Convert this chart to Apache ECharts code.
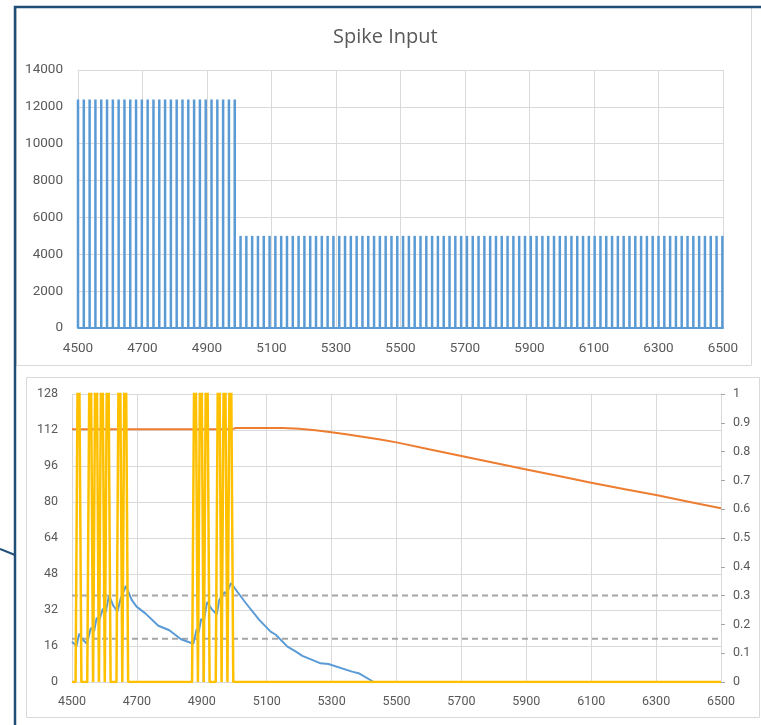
<!DOCTYPE html>
<html>
<head>
<meta charset="utf-8">
<script src="https://cdn.jsdelivr.net/npm/echarts@6/dist/echarts.min.js"></script>
<style>html,body{margin:0;padding:0;background:#fff}#c{width:761px;height:725px}</style>
</head>
<body>
<div id="c"></div>
<script>
// ---------- data ----------
const xTickStart = 4500, xTickEnd = 6500, xTickStep = 200;
const spikeTimesHigh = [4500,4518,4536,4554,4572,4590,4608,4626,4644,4662,4680,4698,4716,4734,4752,4770,4788,4806,4824,4842,4860,4878,4896,4914,4932,4950,4968,4986];
const spikeTimesLow = [5004,5022,5040,5058,5076,5094,5112,5130,5148,5166,5184,5202,5220,5238,5256,5274,5292,5310,5328,5346,5364,5382,5400,5418,5436,5454,5472,5490,5508,5526,5544,5562,5580,5598,5616,5634,5652,5670,5688,5706,5724,5742,5760,5778,5796,5814,5832,5850,5868,5886,5904,5922,5940,5958,5976,5994,6012,6030,6048,6066,6084,6102,6120,6138,6156,6174,6192,6210,6228,6246,6264,6282,6300,6318,6336,6354,6372,6390,6408,6426,6444,6462,6480,6498];
const spikeHigh = 12400;
const spikeLow = 5000;

const blueT = [4500,4514,4522,4532,4546,4558,4568,4576,4584,4595,4604,4614,4627,4640,4650,4666,4684,4699,4726,4766,4800,4836,4874,4884,4890,4898,4906,4916,4930,4946,4954,4970,4976,4990,5010,5036,5077,5112,5128,5164,5190,5210,5266,5290,5363,5383,5430];
const blueV = [17.9,16,21.5,19,17,24,22.5,28.5,27.5,32.5,31,38.5,34,31.3,37,42.7,36.5,33.5,30.5,25,23,19,17,23.5,22,28,27,35.5,32.5,30,36.5,40,39,44,40,35,27.6,22.4,21,15.7,13.5,11.6,8.3,8,4.6,3.9,0];

const orangeT = [4500,4995,5005,5150,5200,5250,5300,5350,5400,5450,5500,5600,5700,5800,5900,6000,6100,6200,6300,6400,6500];
const orangeV = [0.878,0.878,0.882,0.882,0.879,0.874,0.867,0.859,0.851,0.842,0.832,0.808,0.785,0.761,0.738,0.715,0.692,0.670,0.649,0.626,0.603];

const yellowT = [4500,4511,4520,4529,4547,4556,4565,4574,4583,4592,4601,4610,4619,4637,4646,4655,4664,4673,4870,4879,4888,4897,4906,4915,4924,4943,4952,4961,4970,4979,4988,4997,6500];
const yellowV = [0,0,192,0,0,192,0,192,0,192,0,192,0,0,192,0,192,0,0,192,0,192,0,192,0,0,192,0,192,0,192,0,0];

const thresholdHigh = 0.3, thresholdLow = 0.15;

// ---------- build ----------
const X0 = xTickStart;
const rel = t => t - X0;
const barData = spikeTimesHigh.map(t => [rel(t), spikeHigh]).concat(spikeTimesLow.map(t => [rel(t), spikeLow]));
const zip = (T, V) => T.map((t, i) => [rel(t), V[i]]);

const labelColor = '#595959';
const gridColor = '#D9D9D9';
const font = 'Roboto';

function xAxisCfg(gridIndex, fontSize, lineColor, lineWidth, margin) {
  return {
    type: 'value', gridIndex, min: 0, max: xTickEnd - X0, interval: xTickStep,
    axisLine: { show: true, onZero: false, lineStyle: { color: lineColor, width: lineWidth } },
    axisTick: { show: false },
    axisLabel: { color: labelColor, fontFamily: font, fontSize, margin, formatter: v => String(v + X0) },
    splitLine: { show: true, lineStyle: { color: gridColor, width: 1 } }
  };
}

const option = {
  animation: false,
  backgroundColor: '#ffffff',
  title: {
    text: 'Spike Input', left: 333, top: 27, padding: 0,
    textStyle: { color: labelColor, fontFamily: 'Open Sans', fontSize: 20, fontWeight: 'normal' }
  },
  graphic: [
    { type: 'rect', shape: { x: 16.5, y: 7.5, width: 735, height: 358 }, style: { fill: 'transparent', stroke: '#D9D9D9', lineWidth: 1 }, z: -10 },
    { type: 'rect', shape: { x: 26.5, y: 377.5, width: 733, height: 340 }, style: { fill: 'transparent', stroke: '#D9D9D9', lineWidth: 1 }, z: -10 },
    { type: 'polyline', shape: { points: [[15, 725], [15, 7], [761, 7]] }, style: { fill: null, stroke: '#1F4E79', lineWidth: 2.5 }, z: 10 },
    { type: 'polyline', shape: { points: [[0, 549], [15, 555]] }, style: { fill: null, stroke: '#1F4E79', lineWidth: 2 }, z: 10 }
  ],
  grid: [
    { left: 78, right: 38, top: 70, height: 258 },
    { left: 72, right: 40, top: 394, height: 288 }
  ],
  xAxis: [
    xAxisCfg(0, 13.5, '#5B9BD5', 2, 14),
    xAxisCfg(1, 12.5, gridColor, 1, 13)
  ],
  yAxis: [
    {
      type: 'value', gridIndex: 0, min: 0, max: 14000, interval: 2000,
      axisLine: { show: false }, axisTick: { show: false },
      axisLabel: { color: labelColor, fontFamily: font, fontSize: 13.5, margin: 15, formatter: v => String(v) },
      splitLine: { lineStyle: { color: gridColor, width: 1 } }
    },
    {
      type: 'value', gridIndex: 1, min: 0, max: 128, interval: 16,
      axisLine: { show: false }, axisTick: { show: false },
      axisLabel: { color: labelColor, fontFamily: font, fontSize: 12.5, margin: 14 },
      splitLine: { lineStyle: { color: gridColor, width: 1 } }
    },
    {
      type: 'value', gridIndex: 1, min: 0, max: 1, interval: 0.1, position: 'right',
      axisLine: { show: true, lineStyle: { color: gridColor } },
      axisTick: { show: true, length: 4, lineStyle: { color: '#A6A6A6' } },
      axisLabel: { color: labelColor, fontFamily: font, fontSize: 12.5, margin: 12, formatter: v => String(Math.round(v * 10) / 10) },
      splitLine: { show: false }
    }
  ],
  series: [
    {
      type: 'bar', xAxisIndex: 0, yAxisIndex: 0, data: barData, barWidth: 2.5,
      itemStyle: { color: '#5B9BD5' }, clip: false
    },
    {
      type: 'line', xAxisIndex: 1, yAxisIndex: 2, data: [[0, thresholdHigh], [xTickEnd - X0, thresholdHigh]],
      showSymbol: false, lineStyle: { color: '#A5A5A5', width: 2, type: [6, 4] }
    },
    {
      type: 'line', xAxisIndex: 1, yAxisIndex: 2, data: [[0, thresholdLow], [xTickEnd - X0, thresholdLow]],
      showSymbol: false, lineStyle: { color: '#A5A5A5', width: 2, type: [6, 4] }
    },
    {
      type: 'line', xAxisIndex: 1, yAxisIndex: 2, data: zip(orangeT, orangeV),
      showSymbol: false, lineStyle: { color: '#ED7D31', width: 2 }
    },
    {
      type: 'line', xAxisIndex: 1, yAxisIndex: 1, data: zip(blueT, blueV),
      showSymbol: false, lineStyle: { color: '#5B9BD5', width: 2 }
    },
    {
      type: 'line', xAxisIndex: 1, yAxisIndex: 1, data: zip(yellowT, yellowV),
      showSymbol: false, clip: true, lineStyle: { color: '#FFC000', width: 2.5 }
    }
  ]
};

const chart = echarts.init(document.getElementById('c'), null, { renderer: 'canvas' });
chart.setOption(option);
</script>
</body>
</html>
